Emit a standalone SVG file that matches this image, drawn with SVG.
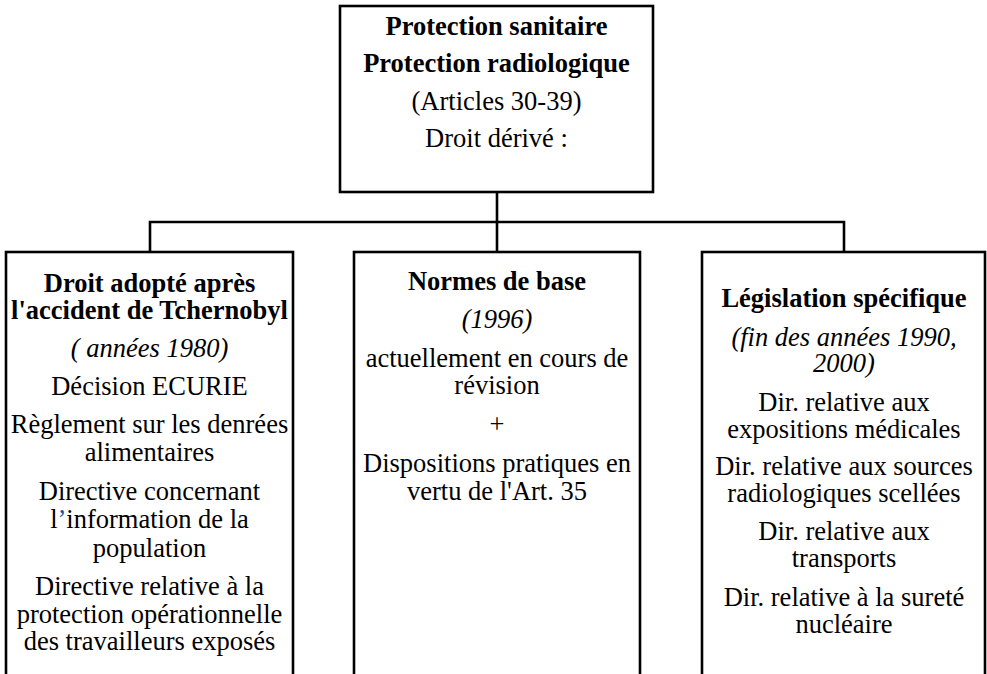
<svg xmlns="http://www.w3.org/2000/svg" width="987" height="674" viewBox="0 0 987 674">
  <style>
    .box { fill: #ffffff; stroke: #000000; stroke-width: 2.6; }
    .wire { fill: none; stroke: #000000; stroke-width: 2.6; }
    text { font-family: "Liberation Serif", "Times New Roman", serif; font-size: 26.5px; fill: #000000; text-anchor: middle; }
    .b { font-weight: bold; }
    .i { font-style: italic; }
    .blue { fill: #1f4fa0; }
  </style>

  <rect width="987" height="674" fill="#ffffff"/>

  <!-- tree connectors -->
  <g id="connectors">
    <path class="wire" d="M497 192 V222"/>
    <path class="wire" d="M150 252 V222 H844 V252"/>
    <path class="wire" d="M497 222 V252"/>
  </g>

  <!-- root -->
  <g id="root">
    <rect class="box" x="340" y="6" width="313" height="186"/>
    <text class="b" x="496.5" y="35">Protection sanitaire</text>
    <text class="b" x="496.5" y="72">Protection radiologique</text>
    <text x="496.5" y="110">(Articles 30-39)</text>
    <text x="496.5" y="147">Droit dérivé :</text>
  </g>

  <!-- left branch -->
  <g id="tchernobyl">
    <rect class="box" x="6" y="252" width="287" height="440"/>
    <text class="b" x="149.5" y="292">Droit adopté après</text>
    <text class="b" x="149.5" y="319">l'accident de Tchernobyl</text>
    <text class="i" x="149.5" y="357">( années 1980)</text>
    <text x="149.5" y="395">Décision ECURIE</text>
    <text x="149.5" y="433">Règlement sur les denrées</text>
    <text x="149.5" y="461">alimentaires</text>
    <text x="149.5" y="500">Directive concernant</text>
    <text x="149.5" y="528">l<tspan class="blue">’</tspan>information de la</text>
    <text x="149.5" y="557">population</text>
    <text x="149.5" y="595">Directive relative à la</text>
    <text x="149.5" y="623">protection opérationnelle</text>
    <text x="149.5" y="650">des travailleurs exposés</text>
  </g>

  <!-- middle branch -->
  <g id="normes">
    <rect class="box" x="354" y="252" width="286" height="440"/>
    <text class="b" x="497" y="290">Normes de base</text>
    <text class="i" x="497" y="328">(1996)</text>
    <text x="497" y="367">actuellement en cours de</text>
    <text x="497" y="394">révision</text>
    <text x="497" y="433">+</text>
    <text x="497" y="472">Dispositions pratiques en</text>
    <text x="497" y="500">vertu de l'Art. 35</text>
  </g>

  <!-- right branch -->
  <g id="specifique">
    <rect class="box" x="702" y="252" width="283" height="440"/>
    <text class="b" x="844" y="307">Législation spécifique</text>
    <text class="i" x="844" y="346">(fin des années 1990,</text>
    <text class="i" x="844" y="372">2000)</text>
    <text x="844" y="411">Dir. relative aux</text>
    <text x="844" y="438">expositions médicales</text>
    <text x="844" y="475">Dir. relative aux sources</text>
    <text x="844" y="502">radiologiques scellées</text>
    <text x="844" y="540">Dir. relative aux</text>
    <text x="844" y="567">transports</text>
    <text x="844" y="606">Dir. relative à la sureté</text>
    <text x="844" y="633">nucléaire</text>
  </g>
</svg>
